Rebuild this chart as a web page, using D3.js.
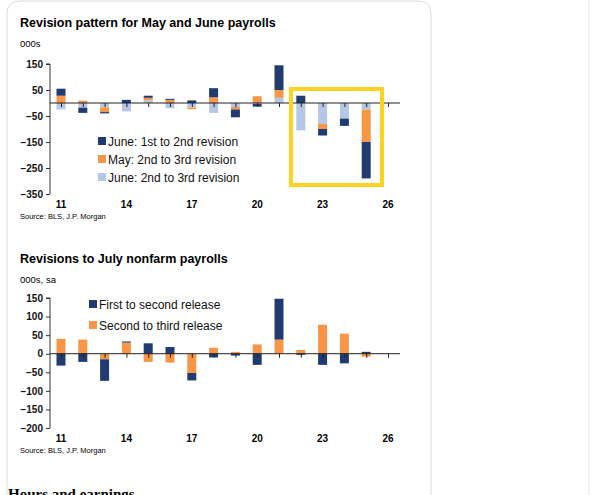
<!DOCTYPE html>
<html><head><meta charset="utf-8">
<script src="https://cdn.jsdelivr.net/npm/d3@7"></script>
<style>
body{margin:0;background:#fff}
text{font-family:"Liberation Sans Narrow","Arial Narrow","Liberation Sans",Arial,sans-serif}
</style></head><body>
<script>
// x values: years 2011..2025, axis labelled by two-digit year
const years = d3.range(11, 26);
const xTicks = [11, 14, 17, 20, 23, 26];

// chart 1: revision pattern for May and June payrolls (000s)
const june1 = [27, -20, -5, 12, 8, 4, 10, 35, -30, -10, 95, 28, -25, -28, -140];
const may2 = [28, 9, -18, 0, 10, 12, -6, 22, -10, 26, 30, 0, -20, 0, -125];
const june2 = [-25, -18, -17, -32, 10, -20, -18, -38, -15, -4, 20, -105, -80, -60, -25];
const ticks1 = [150, 50, -50, -150, -250, -350];

// chart 2: revisions to July nonfarm payrolls (000s, sa)
const firstRel = [-32, -22, -58, 3, 28, 18, -20, -10, -5, -30, 110, -3, -30, -26, 5];
const secondRel = [40, 38, -15, 30, -22, -24, -52, 16, 5, 25, 38, 10, 78, 54, -8];
const ticks2 = [150, 100, 50, 0, -50, -100, -150, -200];

const NAVY = "#1f3b6f", ORANGE = "#f79646", LIGHT = "#b4c7e7";

const svg = d3.select("body").append("svg").attr("width", 595).attr("height", 495);

// card outline
svg.append("path").attr("fill", "none").attr("stroke", "#dcdcdc")
  .attr("d", "M7,495 V14 Q7,1 20,1 H418 Q431,1 431,14 V495");
svg.append("line").attr("x1", 589).attr("x2", 589).attr("y1", 0).attr("y2", 495).attr("stroke", "#e6e6e6");

const x = d3.scaleLinear().domain([11, 26]).range([61, 388]);

function chart(o) {
  const g = svg.append("g");
  g.append("text").attr("x", 20).attr("y", o.titleY).attr("font-size", 12.5).attr("font-weight", "bold").text(o.title);
  g.append("text").attr("x", 20).attr("y", o.titleY + 20).attr("font-size", 9.5).text(o.unit);

  const y = d3.scaleLinear().domain(o.domain).range(o.range);
  const bottom = o.range[1];
  const rows = years.map((yr, i) => {
    const r = { yr };
    o.series.forEach(s => r[s.key] = s.values[i]);
    return r;
  });
  const stack = d3.stack().keys(o.series.map(s => s.key)).offset(d3.stackOffsetDiverging)(rows);

  g.selectAll("g.s").data(stack).join("g")
    .attr("fill", d => o.series.find(s => s.key === d.key).color)
    .selectAll("rect").data(d => d).join("rect")
    .attr("x", d => x(d.data.yr) - 4.5).attr("width", 9)
    .attr("y", d => y(Math.max(d[0], d[1])))
    .attr("height", d => Math.abs(y(d[0]) - y(d[1])));

  const ax = g.append("g").attr("transform", "translate(50,0)")
    .call(d3.axisLeft(y).tickValues(o.ticks).tickSize(4).tickFormat(d3.format("d")));
  ax.select(".domain").attr("d", `M-4,${o.range[0]}H0V${bottom}`).attr("stroke", "#333");
  ax.selectAll(".tick line").attr("stroke", "#333");
  ax.selectAll("text").attr("font-size", 10).attr("font-weight", "bold").attr("fill", "#111");

  // zero line with small ticks
  const zx = g.append("g").attr("transform", `translate(0,${y(0)})`)
    .call(d3.axisBottom(x).tickValues(d3.range(11, 27)).tickSize(4).tickFormat(""));
  zx.select(".domain").attr("d", `M50,0H${o.zeroEnd}`).attr("stroke", "#222");
  zx.selectAll(".tick line").attr("stroke", "#222");

  g.selectAll("text.xl").data(xTicks).join("text").attr("class", "xl")
    .attr("x", d => x(d)).attr("y", bottom + 14).attr("text-anchor", "middle")
    .attr("font-size", 10).attr("font-weight", "bold").text(d => d);

  g.append("text").attr("x", 20).attr("y", bottom + 25).attr("font-size", 7.5).text("Source: BLS, J.P. Morgan");

  const lg = g.selectAll("g.lg").data(o.legend).join("g")
    .attr("transform", (d, i) => `translate(${o.legX},${o.legY + i * o.legStep})`);
  lg.append("rect").attr("x", 0).attr("y", -4).attr("width", 8).attr("height", 8)
    .attr("fill", d => o.series.find(s => s.key === d.key).color);
  lg.append("text").attr("x", 10).attr("y", 4.5).attr("font-size", 12).attr("fill", "#111").text(d => d.label);
  return y;
}

chart({
  title: "Revision pattern for May and June payrolls", unit: "000s", titleY: 27,
  domain: [150, -350], range: [64, 194], ticks: ticks1, zeroEnd: 400,
  series: [
    { key: "june2", values: june2, color: LIGHT },
    { key: "may", values: may2, color: ORANGE },
    { key: "june1", values: june1, color: NAVY }],
  legend: [
    { key: "june1", label: "June: 1st to 2nd revision" },
    { key: "may", label: "May: 2nd to 3rd revision" },
    { key: "june2", label: "June: 2nd to 3rd revision" }],
  legX: 98, legY: 141, legStep: 18
});

// highlight box around 2022-2025
svg.append("rect").attr("x", 291).attr("y", 89).attr("width", 91).attr("height", 96)
  .attr("fill", "none").attr("stroke", "#ffd21f").attr("stroke-width", 4);

chart({
  title: "Revisions to July nonfarm payrolls", unit: "000s, sa", titleY: 263,
  domain: [150, -200], range: [298, 428], ticks: ticks2, zeroEnd: 400,
  series: [
    { key: "second", values: secondRel, color: ORANGE },
    { key: "first", values: firstRel, color: NAVY }],
  legend: [
    { key: "first", label: "First to second release" },
    { key: "second", label: "Second to third release" }],
  legX: 89, legY: 304, legStep: 21
});

svg.append("text").attr("x", 8).attr("y", 499)
  .attr("font-size", 15).attr("font-weight", "bold").text("Hours and earnings").style("font-family", "Liberation Serif, serif");
</script>
</body></html>
